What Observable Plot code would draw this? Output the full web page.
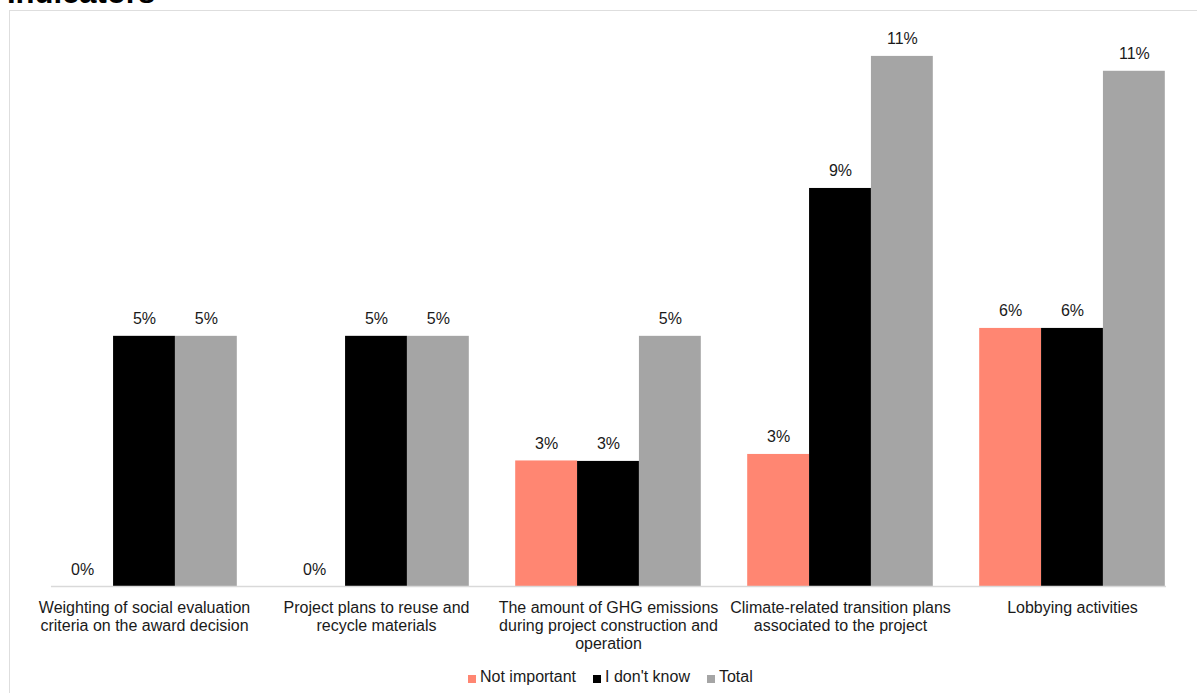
<!DOCTYPE html>
<html>
<head>
<meta charset="utf-8">
<script src="https://cdn.jsdelivr.net/npm/d3@7"></script>
<script src="https://cdn.jsdelivr.net/npm/@observablehq/plot@0.6"></script>
<style>
  html, body { margin: 0; padding: 0; background: #fff; }
  body { position: relative; width: 1197px; height: 693px; overflow: hidden;
         font-family: Arial, "Liberation Sans", Helvetica, sans-serif; color: #1a1a1a; }
  #title { position: absolute; left: 7px; top: -23px; font-size: 31px; line-height: 31px;
           font-weight: bold; color: #000; white-space: nowrap; }
  #box { position: absolute; left: 9px; top: 10px; width: 1210px; height: 720px;
         border: 1px solid #dedede; box-sizing: border-box; }
  #chart { position: absolute; left: 0; top: 0; }
  #legend { position: absolute; left: 468px; top: 668px; display: flex; align-items: center;
            font-size: 16px; line-height: 18px; color: #1a1a1a; }
  #legend .item { display: flex; align-items: center; margin-right: 17px; }
  #legend .sw { width: 8px; height: 8px; margin-right: 4px; position: relative; top: 2px; }
</style>
</head>
<body>
<div id="title">Indicators</div>
<div id="box"></div>
<div id="chart"></div>
<div id="legend"></div>
<script>
// Survey indicators, share of respondents per answer (percent)
const categories = [
  "Weighting of social evaluation criteria on the award decision",
  "Project plans to reuse and recycle materials",
  "The amount of GHG emissions during project construction and operation",
  "Climate-related transition plans associated to the project",
  "Lobbying activities"
];
const tickLabels = [
  "Weighting of social evaluation\ncriteria on the award decision",
  "Project plans to reuse and\nrecycle materials",
  "The amount of GHG emissions\nduring project construction and\noperation",
  "Climate-related transition plans\nassociated to the project",
  "Lobbying activities"
];
const seriesNames = ["Not important", "I don't know", "Total"];
const seriesColors = ["#ff8672", "#000000", "#a5a5a5"];
const notImportant = [0, 0, 2.7, 2.84, 5.55];
const dontKnow = [5.38, 5.38, 2.69, 8.56, 5.55];
const total = [5.38, 5.38, 5.38, 11.4, 11.08];

const valuesBySeries = [notImportant, dontKnow, total];
const rows = [];
categories.forEach((c, i) => {
  seriesNames.forEach((s, j) => rows.push({category: c, series: s, value: valuesBySeries[j][i]}));
});
const labelOf = new Map(categories.map((c, i) => [c, tickLabels[i]]));

const chart = Plot.plot({
  width: 1197,
  height: 660,
  marginTop: 28,
  marginBottom: 74,
  marginLeft: 28,
  marginRight: 9,
  style: {fontFamily: "Arial, 'Liberation Sans', Helvetica, sans-serif", background: "transparent"},
  fx: {domain: categories, paddingInner: 0.2, paddingOuter: 0.1, round: false, label: null},
  x: {domain: seriesNames, padding: 0, round: false, axis: null},
  y: {domain: [0, 12], axis: null},
  color: {domain: seriesNames, range: seriesColors},
  marks: [
    Plot.barY(rows, {fx: "category", x: "series", y: "value", fill: "series", inset: 0}),
    // baseline spanning the whole plot width, across the gaps between groups
    Plot.frame({facet: "super", anchor: "bottom", stroke: "#d9d9d9", strokeWidth: 1.5}),
    Plot.text(rows, {
      fx: "category", x: "series", y: "value",
      text: d => `${Math.round(d.value)}%`,
      lineAnchor: "bottom", dy: -12, fontSize: 16, fill: "#1a1a1a"
    }),
    Plot.axisFx({
      anchor: "bottom", tickSize: 0, tickPadding: 13.5, fontSize: 16,
      lineHeight: 1.12, tickFormat: d => labelOf.get(d), label: null,
      fill: "#1a1a1a", textOverflow: null, lineWidth: Infinity
    })
  ]
});
document.getElementById("chart").appendChild(chart);

// Legend below the plot
const legend = document.getElementById("legend");
seriesNames.forEach((s, i) => {
  const item = document.createElement("div");
  item.className = "item";
  const sw = document.createElement("span");
  sw.className = "sw";
  sw.style.background = seriesColors[i];
  const label = document.createElement("span");
  label.textContent = s;
  item.appendChild(sw);
  item.appendChild(label);
  legend.appendChild(item);
});
</script>
</body>
</html>
